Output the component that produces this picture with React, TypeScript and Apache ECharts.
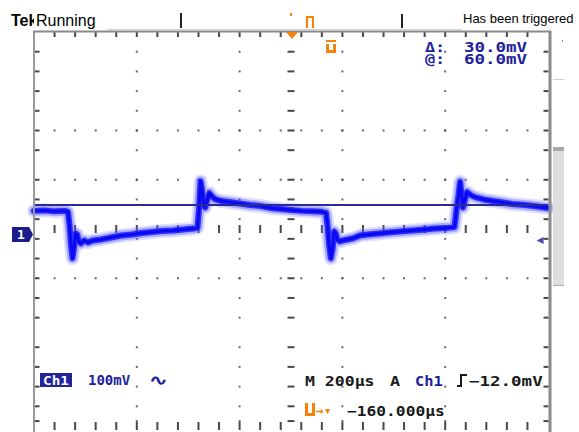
import React, { useEffect, useRef } from "react";
import * as echarts from "echarts";

// ---- Channel 1 waveform (time in µs, amplitude in mV) ----
const timeUs = [
  -1000, -960, -920, -880, -868, -862, -856, -850, -844, -838, -832, -826, -818, -805, -790, -770, -740, -700,
  -660, -620, -580, -540, -500, -460, -420, -380, -364, -358, -352, -346, -340, -334, -326, -318, -308, -296,
  -270, -240, -200, -160, -120, -80, -40, 0, 40, 80, 120, 136, 142, 148, 155, 162, 168, 174, 180, 190, 210,
  240, 268, 300, 340, 380, 424, 470, 520, 560, 600, 636, 644, 652, 658, 664, 669, 676, 685, 700, 716, 760,
  813, 860, 911, 960, 1000,
];
const ch1mV = [
  48, 49, 47, 48, 46, 20, -20, -48, -25, 2, 0, -14, -18, -12, -16, -12, -10, -6,
  -2, 0, 3, 5, 7, 8, 10, 12, 14, 50, 108, 90, 60, 55, 70, 84, 78, 72,
  68, 66, 63, 60, 58, 54, 52, 50, 48, 47, 46, 44, 20, -20, -48, -28, 6, 2, -10, -14, -11,
  -8, -2, 0, 2, 4, 6, 8, 10, 12, 13, 15, 50, 80, 107, 80, 55, 70, 86, 80, 76, 70,
  66, 62, 60, 57, 54,
];
const cursorMV = 60;
const triggerLevelMV = -12;
const triggerMarkerUs = 969;

// axis ranges
const X_MIN_US = -1000;
const X_MAX_US = 1000;
const Y_MIN_MV = -388.8;
const Y_MAX_MV = 411.2;

// graticule (in screen divisions)
const xTickDivs: number[] = [];
for (let k = -23; k <= 23; k += 2) xTickDivs.push(k * 0.2);
const yTickDivs = [3.6, 3.2, 2.8, 2.4, 2.0, 1.6, 1.0, 0.6, 0.2, -0.2, -0.6, -1.0, -1.4, -1.8, -2.4, -2.8, -3.2, -3.6, -3.9];
const gridXDivs = [-3, -1, 1, 3];
const gridYDivs = [2, 1, -1];

// texts
const titleLeft = "Running";
const titleRight = "Has been triggered";
const cursorDelta = "30.0mV";
const cursorAt = "60.0mV";
const chLabel = "Ch1";
const chScale = "100mV";
const timebase = "M 200µs";
const trigSource = "Ch1";
const trigLevel = "−12.0mV";
const trigPos = "−160.000µs";

const NAVY = "#22229c";
const ORANGE = "#f5820a";
const INK = "#1a1a1a";
const MONO = '"DejaVu Sans Mono"';

const scat = (data: number[][], size: number[], offset: number[] = [0, 0], color = INK) => ({
  type: "scatter",
  xAxisIndex: 1,
  yAxisIndex: 1,
  data,
  symbol: "rect",
  symbolSize: size,
  symbolOffset: offset,
  itemStyle: { color },
  silent: true,
  clip: false,
  z: 3,
});

const waveData = timeUs.map((t, i) => [t, ch1mV[i]]);

const waveLayer = (width: number, color: string, z: number) => ({
  type: "line",
  data: waveData,
  showSymbol: false,
  symbol: "none",
  silent: true,
  lineStyle: { width, color, join: "round", cap: "round" },
  z,
});

const option = {
  animation: false,
  grid: { left: 34, top: 32, width: 514, height: 394, show: false },
  xAxis: [
    { type: "value", min: X_MIN_US, max: X_MAX_US, show: false },
    { type: "value", min: -5, max: 5, show: false },
  ],
  yAxis: [
    { type: "value", min: Y_MIN_MV, max: Y_MAX_MV, show: false },
    { type: "value", min: -4, max: 4, show: false },
  ],
  series: [
    scat(xTickDivs.map((x) => [x, 4]), [2, 5], [0, 2.5]),
    scat(xTickDivs.map((x) => [x, -4]), [2, 8]),
    scat(xTickDivs.map((x) => [x, 0]), [2, 8]),
    scat(yTickDivs.map((y) => [0, y]), [7, 2]),
    scat(yTickDivs.map((y) => [-5, y]), [5, 2], [3, 0]),
    scat(yTickDivs.map((y) => [5, y]), [5, 2], [-2, 0]),
    scat(gridXDivs.flatMap((x) => yTickDivs.map((y) => [x, y])), [2, 2], [0, 0], "#444"),
    scat(gridYDivs.flatMap((y) => xTickDivs.map((x) => [x, y])), [2, 2], [0, 0], "#444"),
    waveLayer(14, "rgba(120,120,255,0.22)", 4),
    waveLayer(10, "rgba(70,70,255,0.35)", 5),
    waveLayer(6, "rgba(25,25,255,0.85)", 6),
    waveLayer(3, "#0a0aee", 6),
    {
      type: "line",
      data: [
        [X_MIN_US, cursorMV],
        [X_MAX_US, cursorMV],
      ],
      showSymbol: false,
      symbol: "none",
      silent: true,
      lineStyle: { width: 2, color: "#2a2a98" },
      z: 7,
    },
    {
      type: "scatter",
      data: [[triggerMarkerUs, triggerLevelMV]],
      symbol: "triangle",
      symbolRotate: 90,
      symbolSize: [7, 7],
      itemStyle: { color: NAVY },
      silent: true,
      clip: false,
      z: 7,
    },
  ],
};

const txt = (x: number, y: number, text: string, font: string, fill: string, scaleX = 1, align = "left") => ({
  type: "text",
  x,
  y,
  scaleX,
  style: { text, font, fill, textAlign: align, textVerticalAlign: "middle", align, verticalAlign: "middle" },
  silent: true,
  z: 20,
});

function buildGraphics(gy: number) {
  const monoB = (s: number) => `bold ${s}px ${MONO}`;
  return [
    // frame
    { type: "line", shape: { x1: 34, y1: 32, x2: 34, y2: 432 }, style: { stroke: "#9a9a9a", lineWidth: 2 }, z: 10 },
    { type: "line", shape: { x1: 33, y1: 31.5, x2: 551, y2: 31.5 }, style: { stroke: "#8a8a8a", lineWidth: 2 }, z: 10 },
    { type: "line", shape: { x1: 550, y1: 31, x2: 550, y2: 432 }, style: { stroke: "#8a8a8a", lineWidth: 3 }, z: 10 },
    { type: "line", shape: { x1: 107, y1: 29.5, x2: 462, y2: 29.5 }, style: { stroke: "#d4d4d4", lineWidth: 1 }, z: 10 },
    // right side panel
    { type: "line", shape: { x1: 553, y1: 79.5, x2: 564, y2: 79.5 }, style: { stroke: "#cfcfcf", lineWidth: 1 }, z: 10 },
    { type: "rect", shape: { x: 553, y: 147, width: 11, height: 4 }, style: { fill: "#a8a8a8" }, z: 10 },
    { type: "rect", shape: { x: 553, y: 151, width: 11, height: 134 }, style: { fill: "#dedede" }, z: 10 },
    { type: "line", shape: { x1: 553, y1: 285.5, x2: 564, y2: 285.5 }, style: { stroke: "#b0b0b0", lineWidth: 1 }, z: 10 },
    { type: "rect", shape: { x: 562, y: 40, width: 1, height: 2 }, style: { fill: "#888" }, z: 10 },
    // title bar
    txt(11, 20, "Tek", '900 16px "Liberation Sans"', "#000"),
    { type: "rect", shape: { x: 34, y: 8, width: 66, height: 21 }, style: { fill: "#fff" }, z: 21 },
    { ...txt(36, 20, titleLeft, '16px "Liberation Sans"', "#000"), z: 22 },
    txt(463, 18, titleRight, '13px "Liberation Sans"', "#000"),
    { type: "line", shape: { x1: 181, y1: 13, x2: 181, y2: 28 }, style: { stroke: "#222", lineWidth: 2 }, z: 10 },
    { type: "line", shape: { x1: 402, y1: 14, x2: 402, y2: 28 }, style: { stroke: "#222", lineWidth: 2 }, z: 10 },
    { type: "rect", shape: { x: 290, y: 13, width: 2, height: 3 }, style: { fill: ORANGE }, z: 10 },
    {
      type: "polyline",
      shape: { points: [[307, 28], [307, 17], [313, 17], [313, 28]] },
      style: { stroke: ORANGE, lineWidth: 2, fill: null },
      z: 10,
    },
    { type: "polygon", shape: { points: [[286, 32], [298, 32], [292, 39]] }, style: { fill: ORANGE }, z: 11 },
    // trigger level glyph (U with bar)
    { type: "rect", shape: { x: 326, y: 40, width: 10, height: 2 }, style: { fill: ORANGE }, z: 11 },
    {
      type: "polyline",
      shape: { points: [[327.5, 44], [327.5, 51.5], [334.5, 51.5], [334.5, 44]] },
      style: { stroke: ORANGE, lineWidth: 3, fill: null },
      z: 11,
    },
    // cursor readouts
    txt(425, 47, "Δ:", monoB(14), NAVY, 1.2),
    txt(425, 59, "@:", monoB(14), NAVY, 1.2),
    txt(464, 47, cursorDelta, monoB(14), NAVY, 1.25),
    txt(464, 59, cursorAt, monoB(14), NAVY, 1.25),
    // channel 1 ground marker
    {
      type: "polygon",
      shape: { points: [[12, gy - 7.5], [29, gy - 7.5], [33, gy], [29, gy + 7.5], [12, gy + 7.5]] },
      style: { fill: "#1c1c8c" },
      z: 11,
    },
    txt(21, gy, "1", monoB(13), "#fff", 1, "center"),
    // bottom readouts
    { type: "rect", shape: { x: 40, y: 373, width: 32, height: 14 }, style: { fill: NAVY }, z: 11 },
    txt(56, 380, chLabel, monoB(13), "#fff", 1.1, "center"),
    txt(88, 380, chScale, monoB(14), NAVY),
    txt(149, 380, "∿", monoB(14), NAVY, 1.6),
    txt(305, 381, timebase, monoB(14), INK, 1.18),
    txt(390, 381, "A", monoB(14), INK, 1.2),
    txt(415, 381, trigSource, monoB(14), NAVY, 1.1),
    {
      type: "polyline",
      shape: { points: [[457, 386], [461, 386], [461, 375], [467, 375]] },
      style: { stroke: INK, lineWidth: 2, fill: null },
      z: 11,
    },
    txt(469, 381, trigLevel, monoB(14), INK, 1.25),
    {
      type: "polyline",
      shape: { points: [[306.5, 403], [306.5, 414.5], [313.5, 414.5], [313.5, 403]] },
      style: { stroke: ORANGE, lineWidth: 3, fill: null },
      z: 11,
    },
    txt(316, 410, "→▾", monoB(13), ORANGE),
    txt(347, 411, trigPos, monoB(14), INK, 1.16),
  ];
}

export default function App() {
  const ref = useRef<HTMLDivElement>(null);
  useEffect(() => {
    document.body.style.margin = "0";
    const chart = echarts.init(ref.current!, null, { renderer: "svg" });
    chart.setOption(option as any);
    const gy = chart.convertToPixel({ yAxisIndex: 0 } as any, 0) as unknown as number;
    chart.setOption({ graphic: { elements: buildGraphics(gy) } } as any);
    return () => chart.dispose();
  }, []);
  return <div ref={ref} style={{ width: 579, height: 432, background: "#fff" }} />;
}
